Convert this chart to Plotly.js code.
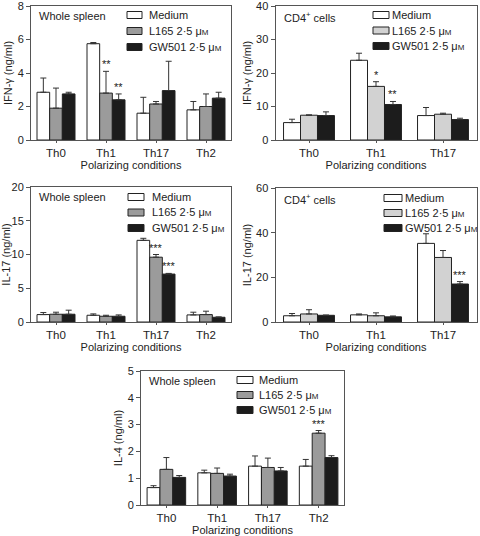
<!DOCTYPE html>
<html>
<head>
<meta charset="utf-8">
<script src="https://cdn.plot.ly/plotly-3.0.1.min.js"></script>
<style>html,body{margin:0;padding:0;background:#fff}#chart{width:480px;height:536px}</style>
</head>
<body>
<div id="chart"></div>
<script>
// ---- categories ----
const catsSpleen = ['Th0', 'Th1', 'Th17', 'Th2'];
const catsCD4 = ['Th0', 'Th1', 'Th17'];
const seriesNames = ['Medium', 'L165 2·5 μ<span style="font-size:8px">M</span>', 'GW501 2·5 μ<span style="font-size:8px">M</span>'];

// ---- Panel 1: IFN-γ, whole spleen ----
const ifnSpleenMedium = [2.85, 5.75, 1.6, 1.8];
const ifnSpleenMediumErr = [0.85, 0.07, 0.95, 0.5];
const ifnSpleenL165 = [1.9, 2.8, 2.15, 2.0];
const ifnSpleenL165Err = [1.2, 1.3, 0.15, 0.75];
const ifnSpleenGW = [2.75, 2.4, 2.95, 2.5];
const ifnSpleenGWErr = [0.1, 0.35, 1.75, 0.35];
const ifnSpleenL165Sig = ['', '**', '', ''];
const ifnSpleenGWSig = ['', '**', '', ''];

// ---- Panel 2: IFN-γ, CD4+ cells ----
const ifnCD4Medium = [5.2, 23.8, 7.3];
const ifnCD4MediumErr = [1.0, 2.1, 2.4];
const ifnCD4L165 = [7.4, 16.0, 7.7];
const ifnCD4L165Err = [0.1, 1.4, 0.3];
const ifnCD4GW = [7.3, 10.6, 6.1];
const ifnCD4GWErr = [1.1, 0.9, 0.4];
const ifnCD4L165Sig = ['', '*', ''];
const ifnCD4GWSig = ['', '**', ''];

// ---- Panel 3: IL-17, whole spleen ----
const il17SpleenMedium = [1.1, 1.0, 12.1, 1.05];
const il17SpleenMediumErr = [0.3, 0.2, 0.3, 0.4];
const il17SpleenL165 = [1.15, 0.85, 9.6, 1.1];
const il17SpleenL165Err = [0.3, 0.15, 0.4, 0.5];
const il17SpleenGW = [1.15, 0.85, 7.1, 0.7];
const il17SpleenGWErr = [0.6, 0.2, 0.1, 0.05];
const il17SpleenL165Sig = ['', '', '***', ''];
const il17SpleenGWSig = ['', '', '***', ''];

// ---- Panel 4: IL-17, CD4+ cells ----
const il17CD4Medium = [2.8, 3.2, 35.2];
const il17CD4MediumErr = [1.0, 0.4, 4.3];
const il17CD4L165 = [3.6, 2.8, 28.9];
const il17CD4L165Err = [1.9, 1.3, 3.1];
const il17CD4GW = [3.0, 2.3, 17.0];
const il17CD4GWErr = [0.1, 0.4, 1.1];
const il17CD4L165Sig = ['', '', ''];
const il17CD4GWSig = ['', '', '***'];

// ---- Panel 5: IL-4, whole spleen ----
const il4SpleenMedium = [0.65, 1.2, 1.45, 1.45];
const il4SpleenMediumErr = [0.07, 0.1, 0.38, 0.25];
const il4SpleenL165 = [1.33, 1.18, 1.4, 2.68];
const il4SpleenL165Err = [0.44, 0.2, 0.35, 0.1];
const il4SpleenGW = [1.03, 1.08, 1.27, 1.77];
const il4SpleenGWErr = [0.07, 0.07, 0.13, 0.07];
const il4SpleenL165Sig = ['', '', '', '***'];
const il4SpleenGWSig = ['', '', '', ''];

const FONT = '"Liberation Sans", Arial, Helvetica, sans-serif';
const BARGAP = 0.24;
const W = 480, H = 536;

// legend geometry per panel: [swatch left, swatch right, text left, first row y, row step]
const panels = [
  {n: '', cats: catsSpleen, label: 'Whole spleen', ytitle: 'IFN-γ (ng/ml)', range: [0, 8], dtick: 2,
   x: [31, 231], y: [6, 140], grey: '#9b9b9b', leg: [127, 142, 147, 15, 16],
   data: [[ifnSpleenMedium, ifnSpleenMediumErr, null], [ifnSpleenL165, ifnSpleenL165Err, ifnSpleenL165Sig], [ifnSpleenGW, ifnSpleenGWErr, ifnSpleenGWSig]]},
  {n: '2', cats: catsCD4, label: 'CD4<sup>+</sup> cells', ytitle: 'IFN-γ (ng/ml)', range: [0, 40], dtick: 10,
   x: [275.5, 476.5], y: [6, 140], grey: '#d2d2d2', leg: [373, 389, 390, 15, 15.5],
   data: [[ifnCD4Medium, ifnCD4MediumErr, null], [ifnCD4L165, ifnCD4L165Err, ifnCD4L165Sig], [ifnCD4GW, ifnCD4GWErr, ifnCD4GWSig]]},
  {n: '3', cats: catsSpleen, label: 'Whole spleen', ytitle: 'IL-17 (ng/ml)', range: [0, 20], dtick: 5,
   x: [31, 231], y: [187, 322], grey: '#9b9b9b', leg: [128, 144, 150, 197, 15.5],
   data: [[il17SpleenMedium, il17SpleenMediumErr, null], [il17SpleenL165, il17SpleenL165Err, il17SpleenL165Sig], [il17SpleenGW, il17SpleenGWErr, il17SpleenGWSig]]},
  {n: '4', cats: catsCD4, label: 'CD4<sup>+</sup> cells', ytitle: 'IL-17 (ng/ml)', range: [0, 60], dtick: 20,
   x: [275.5, 476.5], y: [188, 322], grey: '#d2d2d2', leg: [384, 402, 403, 198, 15],
   data: [[il17CD4Medium, il17CD4MediumErr, null], [il17CD4L165, il17CD4L165Err, il17CD4L165Sig], [il17CD4GW, il17CD4GWErr, il17CD4GWSig]]},
  {n: '5', cats: catsSpleen, label: 'Whole spleen', ytitle: 'IL-4 (ng/ml)', range: [0, 5], dtick: 1,
   x: [141, 344], y: [371, 505], grey: '#9b9b9b', leg: [237, 253, 257, 380, 15],
   data: [[il4SpleenMedium, il4SpleenMediumErr, null], [il4SpleenL165, il4SpleenL165Err, il4SpleenL165Sig], [il4SpleenGW, il4SpleenGWErr, il4SpleenGWSig]]}
];

const traces = [];
const layout = {
  width: W, height: H,
  margin: {l: 0, r: 0, t: 0, b: 0},
  paper_bgcolor: '#fff', plot_bgcolor: '#fff',
  font: {family: FONT, size: 11, color: '#222'},
  barmode: 'group', bargap: BARGAP, bargroupgap: 0,
  annotations: [], shapes: [], showlegend: false
};
const px = v => v / W, py = v => 1 - v / H;

panels.forEach(p => {
  const xa = 'x' + p.n, ya = 'y' + p.n;
  const colors = ['#ffffff', p.grey, '#1c1c1c'];
  p.data.forEach((d, i) => {
    const vals = d[0], errs = d[1];
    traces.push({
      type: 'bar', x: p.cats, y: vals, name: seriesNames[i],
      xaxis: xa, yaxis: ya, showlegend: false,
      marker: {color: colors[i], line: {color: '#222', width: 1}},
      error_y: {type: 'data', symmetric: false, array: errs, arrayminus: vals.map(() => 0),
                color: '#333', thickness: 1, width: 3},
      hoverinfo: 'skip'
    });
    if (d[2]) {
      const off = (i - 1) * (1 - BARGAP) / 3;
      d[2].forEach((s, k) => {
        if (!s) return;
        layout.annotations.push({
          xref: xa, yref: ya, x: k + off, y: vals[k] + errs[k], text: s,
          showarrow: false, yanchor: 'bottom', yshift: -1,
          font: {family: FONT, size: 11, color: '#222'}
        });
      });
    }
    // legend entry (swatch + label)
    const ry = p.leg[3] + i * p.leg[4];
    layout.shapes.push({
      type: 'rect', xref: 'paper', yref: 'paper',
      x0: px(p.leg[0]), x1: px(p.leg[1]), y0: py(ry - 3.5), y1: py(ry + 3.5),
      fillcolor: colors[i], line: {color: '#222', width: 1}
    });
    layout.annotations.push({
      xref: 'paper', yref: 'paper', x: px(p.leg[2]), y: py(ry),
      xanchor: 'left', yanchor: 'middle', text: seriesNames[i], showarrow: false,
      font: {family: FONT, size: 11, color: '#222'}
    });
  });
  layout['xaxis' + p.n] = {
    domain: [px(p.x[0]), px(p.x[1])], anchor: ya, type: 'category',
    range: [-0.5, p.cats.length - 0.5],
    showline: true, mirror: true, linecolor: '#555', linewidth: 1,
    ticks: 'outside', ticklen: 2, tickcolor: '#555',
    showgrid: false, zeroline: false, fixedrange: true,
    tickfont: {family: FONT, size: 11.5, color: '#222'},
    title: {text: 'Polarizing conditions', font: {family: FONT, size: 11, color: '#222'}, standoff: 1}
  };
  layout['yaxis' + p.n] = {
    domain: [py(p.y[1]), py(p.y[0])], anchor: xa,
    range: p.range, dtick: p.dtick, ticklabeloverflow: 'allow',
    showline: true, mirror: true, linecolor: '#555', linewidth: 1,
    ticks: 'outside', ticklen: 4, tickcolor: '#555',
    showgrid: false, zeroline: false, fixedrange: true,
    tickfont: {family: FONT, size: 11, color: '#222'},
    title: {text: p.ytitle, font: {family: FONT, size: 11, color: '#222'}, standoff: 2}
  };
  layout.annotations.push({
    xref: 'paper', yref: 'paper', x: px(p.x[0] + 6), y: py(p.y[0] + 2),
    xanchor: 'left', yanchor: 'top', text: p.label, showarrow: false,
    font: {family: FONT, size: 11, color: '#222'}
  });
});

Plotly.newPlot('chart', traces, layout, {staticPlot: true, displayModeBar: false});
</script>
</body>
</html>
